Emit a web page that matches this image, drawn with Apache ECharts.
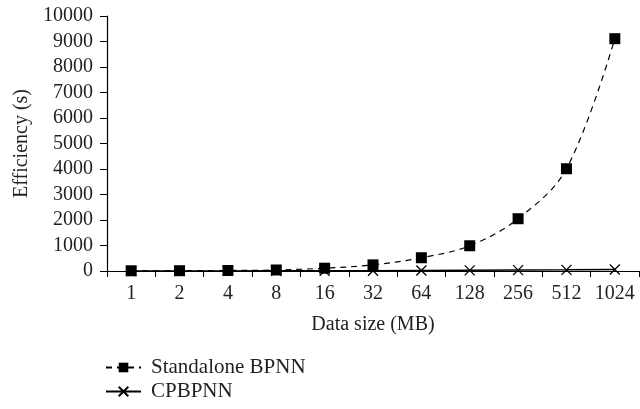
<!DOCTYPE html>
<html><head><meta charset="utf-8">
<script src="https://cdn.jsdelivr.net/npm/echarts@6/dist/echarts.min.js"></script>
<style>html,body{margin:0;padding:0;background:#fff}#c{width:640px;height:409px}</style>
</head><body><div id="c"></div>
<script>
const categories = ['1','2','4','8','16','32','64','128','256','512','1024'];
const standalone = [8, 12, 20, 40, 110, 240, 520, 990, 2050, 4010, 9110];
const cpbpnn = [2, 3, 4, 6, 9, 13, 18, 25, 35, 45, 60];
const yTicks = [0,1000,2000,3000,4000,5000,6000,7000,8000,9000,10000];

const font = 'Liberation Serif';
const txt = '#231f20';
const chart = echarts.init(document.getElementById('c'));
chart.setOption({
  animation: false,
  textStyle: {fontFamily: font},
  grid: {left: 107, right: 1, top: 16, bottom: 138},
  legend: {
    orient: 'vertical', left: 105, top: 357, padding: 0, itemGap: 3, itemWidth: 35, itemHeight: 12,
    textStyle: {fontFamily: font, fontSize: 21, color: txt, padding: [0, 0, 0, 5]},
    data: ['Standalone BPNN', 'CPBPNN']
  },
  xAxis: {
    type: 'category', data: categories, boundaryGap: true,
    name: 'Data size (MB)', nameLocation: 'middle', nameGap: 44,
    nameTextStyle: {fontFamily: font, fontSize: 20, color: txt},
    axisLine: {lineStyle: {color: '#000', width: 1.2}},
    axisTick: {show: true, alignWithLabel: false, length: 6, lineStyle: {color: '#000'}},
    axisLabel: {fontFamily: font, fontSize: 20, color: txt, margin: 13, interval: 0},
    splitLine: {show: false}
  },
  yAxis: {
    type: 'value', min: 0, max: 10000, interval: 1000,
    name: 'Efficiency (s)', nameLocation: 'middle', nameGap: 75, nameRotate: 90,
    nameTextStyle: {fontFamily: font, fontSize: 20, color: txt},
    axisLine: {show: true, lineStyle: {color: '#000', width: 1.2}},
    axisTick: {show: true, length: 7, lineStyle: {color: '#000'}},
    axisLabel: {fontFamily: font, fontSize: 20, color: txt, margin: 14,
      formatter: v => yTicks.indexOf(v) >= 0 ? String(v) : ''},
    splitLine: {show: false}
  },
  series: [
    {
      name: 'Standalone BPNN', type: 'line', data: standalone, smooth: 0.35,
      symbol: 'rect', symbolSize: 11,
      lineStyle: {color: '#000', width: 1.2, type: [6, 5]},
      itemStyle: {color: '#000'}, z: 3
    },
    {
      name: 'CPBPNN', type: 'line', data: cpbpnn,
      symbol: 'path://M0,0L10,10M10,0L0,10', symbolSize: 10,
      lineStyle: {color: '#000', width: 1.5},
      itemStyle: {color: 'rgba(0,0,0,0)', borderColor: '#000', borderWidth: 1.3}, z: 2
    }
  ]
});
</script></body></html>
